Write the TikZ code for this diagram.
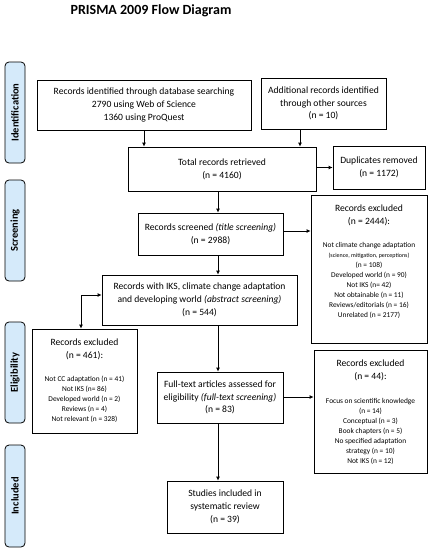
\documentclass[tikz,border=0pt]{standalone}
\usepackage{fontspec}
\setmainfont{Carlito}
\usetikzlibrary{arrows.meta}
\definecolor{sidefill}{HTML}{D5EAFA}
\newcommand{\hdrf}{\fontsize{9.6}{12.8}\selectfont}
\newcommand{\smlf}{\fontsize{7.4}{10}\selectfont}
\newcommand{\tinyf}{\fontsize{6}{10}\selectfont}
\tikzset{
  box/.style={draw, line width=0.8pt, inner sep=2pt, align=center, anchor=center, font=\hdrf},
  side/.style={draw, line width=0.8pt, rounded corners=4pt, fill=sidefill, minimum width=20pt, anchor=center},
  sidetext/.style={rotate=90, font=\fontsize{10.5}{12}\selectfont\bfseries, anchor=center},
  arr/.style={line width=0.8pt, -{Latex[length=4pt,width=4pt]}},
  darr/.style={line width=0.8pt, {Latex[length=4pt,width=4pt]}-{Latex[length=4pt,width=4pt]}}
}
\begin{document}
\begin{tikzpicture}[x=1pt,y=-1pt]
\useasboundingbox (0,0) rectangle (431,550);
\node[font=\fontsize{14}{16}\selectfont\bfseries, anchor=center] (title) at (151,11) {PRISMA 2009 Flow Diagram};
% side labels
\node[side, minimum height=101pt] (sid) at (15,112.5) {};
\node[sidetext] (sidt) at (sid.center) {Identification};
\node[side, minimum height=101pt] (ssc) at (15,230.5) {};
\node[sidetext] (ssct) at (ssc.center) {Screening};
\node[side, minimum height=101pt] (sel) at (15,372.5) {};
\node[sidetext] (selt) at (sel.center) {Eligibility};
\node[side, minimum height=102pt] (sin) at (15,496) {};
\node[sidetext] (sint) at (sin.center) {Included};
% boxes
\node[box, minimum width=214pt, minimum height=50pt] (db) at (144,105) {Records identified through database searching\\2790 using Web of Science\\1360 using ProQuest};
\node[box, minimum width=125pt, minimum height=51pt] (add) at (323.5,103.5) {Additional records identified\\through other sources\\(n = 10)};
\node[box, minimum width=188pt, minimum height=44pt] (tot) at (222,169) {Total records retrieved\\(n = 4160)};
\node[box, minimum width=92pt, minimum height=43pt] (dup) at (379,167.5) {Duplicates removed\\(n = 1172)};
\node[box, minimum width=145pt, minimum height=42pt] (scr) at (210.5,234) {Records screened \textit{(title screening)}\\(n = 2988)};
\node[box, minimum width=116pt, minimum height=148pt] (ex1) at (369,269) {\parbox[c][144pt][t]{112pt}{\centering\vspace*{8pt}\hdrf Records excluded\\(n = 2444):\par\vspace{13pt}\smlf Not climate change adaptation\\{\tinyf (science, mitigation, perceptions)}\\(n = 108)\\Developed world (n = 90)\\Not IKS (n= 42)\\Not obtainable (n = 11)\\Reviews/editorials (n = 16)\\Unrelated (n = 2177)\par}};
\node[box, minimum width=195pt, minimum height=50pt] (abs) at (199.5,300) {Records with IKS, climate change adaptation\\and developing world \textit{(abstract screening)}\\(n = 544)};
\node[box, minimum width=105pt, minimum height=104pt] (ex2) at (84.5,381) {\parbox[c][100pt][t]{101pt}{\centering\vspace*{8pt}\hdrf Records excluded\\(n = 461):\par\vspace{13pt}\smlf Not CC adaptation (n = 41)\\Not IKS (n= 86)\\Developed world (n = 2)\\Reviews (n = 4)\\Not relevant (n = 328)\par}};
\node[box, minimum width=126pt, minimum height=51pt] (ft) at (220,397.5) {Full-text articles assessed for\\eligibility \textit{(full-text screening)}\\(n = 83)};
\node[box, minimum width=113pt, minimum height=123pt] (ex3) at (370.5,411.5) {\parbox[c][119pt][t]{109pt}{\centering\vspace*{8pt}\hdrf Records excluded\\(n = 44):\par\vspace{14pt}\smlf Focus on scientific knowledge\\(n = 14)\\Conceptual (n = 3)\\Book chapters (n = 5)\\No specified adaptation\\strategy (n = 10)\\Not IKS (n = 12)\par}};
\node[box, minimum width=116pt, minimum height=52pt] (st) at (225,507) {Studies included in\\systematic review\\(n = 39)};
% helper coordinates
\coordinate (cx) at (218,0);
\coordinate (ax) at (300,0);
\coordinate (lx) at (81,0);
\coordinate (ly) at (0,295);
\coordinate (fy) at (0,397);
\coordinate (ey) at (0,231);
% arrows
\draw[arr] (db.south) -- (db.south |- tot.north);
\draw[arr] (add.south -| ax) -- (tot.north -| ax);
\draw[arr] (tot.east |- dup.east) -- (dup.west);
\draw[arr] (tot.south -| cx) -- (scr.north -| cx);
\draw[arr] (scr.east |- ey) -- (ex1.west |- ey);
\draw[arr] (scr.south -| cx) -- (abs.north -| cx);
\draw[darr] (ex2.north -| lx) -- (lx |- ly) -- (abs.west |- ly);
\draw[arr] (abs.south -| cx) -- (ft.north -| cx);
\draw[arr] (ft.east |- fy) -- (ex3.west |- fy);
\draw[arr] (ft.south -| cx) -- (st.north -| cx);
\end{tikzpicture}
\end{document}
